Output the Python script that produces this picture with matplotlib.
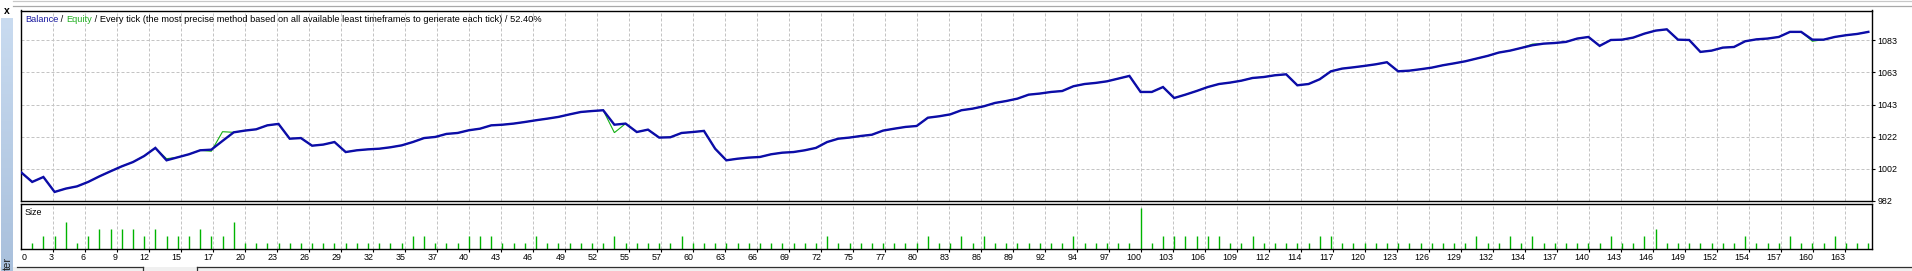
import matplotlib
matplotlib.use("Agg")
import numpy as np
import matplotlib.pyplot as plt
from matplotlib.transforms import blended_transform_factory, offset_copy
from matplotlib.lines import Line2D
from matplotlib.patches import Rectangle

plt.rcParams['font.family'] = ['Liberation Sans', 'DejaVu Sans']

# ---------------- data ----------------
balance = [
    1000.0, 993.9, 997.0, 987.6, 989.7, 991.1, 993.9, 997.4, 1000.6, 1003.7,
    1006.4, 1010.2, 1015.3, 1007.5, 1009.4, 1011.3, 1013.8, 1014.2, 1019.7, 1025.1,
    1026.2, 1027.0, 1029.5, 1030.4, 1021.1, 1021.5, 1016.7, 1017.4, 1019.0, 1012.7,
    1013.8, 1014.4, 1014.8, 1015.7, 1016.9, 1019.0, 1021.5, 1022.2, 1024.1, 1024.7,
    1026.4, 1027.4, 1029.5, 1029.9, 1030.6, 1031.6, 1032.7, 1033.7, 1034.8, 1036.4,
    1037.9, 1038.5, 1039.0, 1029.9, 1030.6, 1025.3, 1026.8, 1021.8, 1022.0, 1024.7,
    1025.3, 1026.0, 1014.8, 1007.5, 1008.5, 1009.2, 1009.6, 1011.3, 1012.3, 1012.7,
    1013.8, 1015.3, 1019.0, 1021.1, 1021.8, 1022.8, 1023.6, 1026.2, 1027.4, 1028.5,
    1029.1, 1034.3, 1035.2, 1036.4, 1039.0, 1040.0, 1041.5, 1043.6, 1044.8, 1046.3,
    1048.8, 1049.5, 1050.5, 1051.1, 1054.1, 1055.5, 1056.2, 1057.2, 1058.9, 1060.6,
    1050.5, 1050.5, 1053.6, 1046.7, 1048.8, 1051.1, 1053.6, 1055.5, 1056.4, 1057.6,
    1059.3, 1059.9, 1061.0, 1061.6, 1054.7, 1055.5, 1058.5, 1063.5, 1065.2, 1066.0,
    1066.9, 1067.9, 1069.2, 1063.5, 1063.9, 1064.8, 1065.8, 1067.3, 1068.5, 1069.8,
    1071.5, 1073.2, 1075.3, 1076.5, 1078.2, 1079.9, 1080.9, 1081.3, 1082.0, 1084.1,
    1085.1, 1079.5, 1083.2, 1083.4, 1084.7, 1087.2, 1089.1, 1089.9, 1083.4, 1083.2,
    1075.7, 1076.5, 1078.4, 1078.8, 1082.4, 1083.6, 1084.1, 1085.1, 1088.3, 1088.3,
    1083.4, 1083.4, 1085.1, 1086.2, 1087.0, 1088.3,
]

# equity differs from balance only at a few trades
equity_deviations = {13: 1008.5, 17: 1013.2, 18: 1025.5, 53: 1024.9,
                     135: 1080.6, 160: 1082.4}

# lot size of trades 1..165
sizes = [
    0.01, 0.02, 0.02, 0.04, 0.01, 0.02, 0.03, 0.03, 0.03, 0.03,
    0.02, 0.03, 0.02, 0.02, 0.02, 0.03, 0.02, 0.02, 0.04, 0.01,
    0.01, 0.01, 0.01, 0.01, 0.01, 0.01, 0.01, 0.01, 0.01, 0.01,
    0.01, 0.01, 0.01, 0.01, 0.02, 0.02, 0.01, 0.01, 0.01, 0.02,
    0.02, 0.02, 0.01, 0.01, 0.01, 0.02, 0.01, 0.01, 0.01, 0.01,
    0.01, 0.01, 0.02, 0.01, 0.01, 0.01, 0.01, 0.01, 0.02, 0.01,
    0.01, 0.01, 0.01, 0.01, 0.01, 0.01, 0.01, 0.01, 0.01, 0.01,
    0.01, 0.02, 0.01, 0.01, 0.01, 0.01, 0.01, 0.01, 0.01, 0.01,
    0.02, 0.01, 0.01, 0.02, 0.01, 0.02, 0.01, 0.01, 0.01, 0.01,
    0.01, 0.01, 0.01, 0.02, 0.01, 0.01, 0.01, 0.01, 0.01, 0.06,
    0.01, 0.02, 0.02, 0.02, 0.02, 0.02, 0.02, 0.01, 0.01, 0.02,
    0.01, 0.01, 0.01, 0.01, 0.01, 0.02, 0.02, 0.01, 0.01, 0.01,
    0.01, 0.01, 0.01, 0.01, 0.01, 0.01, 0.01, 0.01, 0.01, 0.02,
    0.01, 0.01, 0.02, 0.01, 0.02, 0.01, 0.01, 0.01, 0.01, 0.01,
    0.01, 0.02, 0.01, 0.01, 0.02, 0.03, 0.01, 0.01, 0.01, 0.01,
    0.01, 0.01, 0.01, 0.02, 0.01, 0.01, 0.01, 0.02, 0.01, 0.01,
    0.01, 0.02, 0.01, 0.01, 0.01,
]

ytick_values = [982.0, 1002.2, 1022.4, 1042.6, 1062.8, 1083.0]
ytick_labels = ["982", "1002", "1022", "1043", "1063", "1083"]

xtick_labels = [
    "0", "3", "6", "9", "12", "15", "17", "20", "23", "26", "29", "32", "35", "37",
    "40", "43", "46", "49", "52", "55", "57", "60", "63", "66", "69", "72", "75", "77",
    "80", "83", "86", "89", "92", "94", "97", "100", "103", "106", "109", "112", "114",
    "117", "120", "123", "126", "129", "132", "134", "137", "140", "143", "146", "149",
    "152", "154", "157", "160", "163",
]

title_parts = [
    ("Balance", "#1a1aa0"),
    (" / ", "#000000"),
    ("Equity", "#22b022"),
    (" / Every tick (the most precise method based on all available least "
     "timeframes to generate each tick) / 52.40%", "#000000"),
]

# ---------------- layout ----------------
W, H, DPI = 1912, 271, 100
PX_PER_TRADE = 11.196        # horizontal pixels per trade
TRADE0_PX = 21.0             # pixel x of trade 0
PLOT_L, PLOT_R = 20.5, 1871.5
MAIN_T, MAIN_B = 10.5, 201.0
SUB_T, SUB_B = 204.0, 249.3
GRID_PX = 32.0               # vertical grid spacing (px)
GRID0_PX = 20.7

BAL_COLOR = "#0c0ca8"
EQ_COLOR = "#14b014"
SIZE_COLOR = "#00b400"
GRID_COLOR = "#c4c4c4"
FS = 6.4


def fx(px):
    return px / W


def fy(py):
    return 1 - py / H


def px2trade(px):
    return (px - TRADE0_PX) / PX_PER_TRADE


fig = plt.figure(figsize=(W / DPI, H / DPI), dpi=DPI)
fig.patch.set_facecolor("white")

ax = fig.add_axes([fx(PLOT_L), fy(MAIN_B), (PLOT_R - PLOT_L) / W, (MAIN_B - MAIN_T) / H])
ax2 = fig.add_axes([fx(PLOT_L), fy(SUB_B), (PLOT_R - PLOT_L) / W, (SUB_B - SUB_T) / H])

xmin, xmax = px2trade(PLOT_L), px2trade(PLOT_R)
grid_x = [px2trade(GRID0_PX + k * GRID_PX) for k in range(len(xtick_labels))]

trades = np.arange(len(balance))
equity = list(balance)
for k, v in equity_deviations.items():
    equity[k] = v

# ---- main panel ----
for gx in grid_x[1:]:
    ax.axvline(gx, color=GRID_COLOR, lw=0.72, ls=(0, (3, 2)), zorder=0)
for gy in ytick_values[1:]:
    ax.axhline(gy, color=GRID_COLOR, lw=0.72, ls=(0, (3, 2)), zorder=0)

ax.plot(trades, equity, color=EQ_COLOR, lw=0.8, zorder=2, solid_joinstyle='miter')
ax.plot(trades, balance, color=BAL_COLOR, lw=1.7, zorder=3, solid_joinstyle='miter')

ax.set_xlim(xmin, xmax)
ax.set_ylim(981.9, 1101.75)
ax.set_xticks([])
ax.yaxis.tick_right()
ax.set_yticks(ytick_values, ytick_labels)
ax.tick_params(axis='y', length=2.5, width=0.8, pad=1.8, labelsize=FS, direction='out')
for sp in ax.spines.values():
    sp.set_linewidth(1.0)
    sp.set_color("black")

# ---- size panel ----
for gx in grid_x[1:]:
    ax2.axvline(gx, color=GRID_COLOR, lw=0.72, ls=(0, (3, 2)), zorder=0)
ax2.vlines(np.arange(1, len(sizes) + 1), 0, sizes, color=SIZE_COLOR, lw=1.0, zorder=2)
ax2.set_xlim(xmin, xmax)
ax2.set_ylim(0.0009, 0.0662)
ax2.set_yticks([])
ax2.set_xticks(grid_x[1:])
ax2.tick_params(axis='x', length=2, width=0.8, labelbottom=False, direction='out')
for sp in ax2.spines.values():
    sp.set_linewidth(1.0)
    sp.set_color("black")

ax2.text(fx(25), fy(214.9), "Size", transform=fig.transFigure, fontsize=FS,
         ha='left', va='baseline', color='black')

trans = blended_transform_factory(ax2.transData, fig.transFigure)
for k, lab in enumerate(xtick_labels):
    if k == 0:
        tr = offset_copy(trans, fig=fig, x=1.0, y=0, units='dots')
        ha = 'left'
    else:
        tr = offset_copy(trans, fig=fig, x=0.5, y=0, units='dots')
        ha = 'right'
    fig.text(grid_x[k], fy(259.9), lab, transform=tr, ha=ha, va='baseline',
             fontsize=FS, color='black')

# ---- title made of coloured pieces ----
renderer = fig.canvas.get_renderer()


def width_px(s, fs):
    t = fig.text(0, 0, s, fontsize=fs)
    w = t.get_window_extent(renderer).width
    t.remove()
    return w


full_title = "".join(p for p, _ in title_parts)
TITLE_W = 521.0
title_fs = FS * TITLE_W / width_px(full_title, FS)
x0 = 25.0
prefix = ""
for part, col in title_parts:
    off = 0.0 if not prefix else width_px(prefix + "|", title_fs) - width_px("|", title_fs)
    fig.text(fx(x0 + off), fy(22.3), part, fontsize=title_fs, color=col,
             ha='left', va='baseline')
    prefix += part

# ---- window chrome ----
fig.add_artist(Line2D([fx(13), 1], [fy(1.0), fy(1.0)], color="#c8c8c8", lw=0.9))
fig.add_artist(Line2D([fx(13), 1], [fy(5.5), fy(5.5)], color="#a8a8a8", lw=0.9))
fig.add_artist(Rectangle((0, 0), 1, fy(266.5), transform=fig.transFigure,
                         facecolor="#f0f0f0", edgecolor='none', zorder=-5))
fig.add_artist(Line2D([fx(17), fx(143)], [fy(266.5), fy(266.5)], color="#303030", lw=0.9))
fig.add_artist(Line2D([fx(143), fx(143)], [fy(266.5), 0], color="#303030", lw=0.9))
fig.add_artist(Line2D([fx(197), 1], [fy(266.5), fy(266.5)], color="#303030", lw=0.9))
fig.add_artist(Line2D([fx(197), fx(197)], [fy(266.5), 0], color="#303030", lw=0.9))

# left blue tester bar with gradient
bar_ax = fig.add_axes([fx(1), 0, (13 - 1) / W, fy(18)])
bar_ax.imshow(np.linspace(0, 1, 100).reshape(-1, 1), aspect='auto',
              cmap=matplotlib.colors.LinearSegmentedColormap.from_list(
                  "tb", ["#c9dbf0", "#a9c0dc"]), extent=(0, 1, 0, 1), origin='upper')
bar_ax.set_axis_off()
fig.text(fx(6.5), fy(10.5), "x", fontsize=7.5, fontweight='bold', ha='center',
         va='center', color='black')
# only the visible end of the vertical "Tester" tab caption
fig.text(fx(8.0), fy(256.5), "ter", fontsize=8, rotation=90, ha='center',
         va='top', color='#202020')

fig.savefig("out.png", dpi=DPI, facecolor=fig.get_facecolor())
